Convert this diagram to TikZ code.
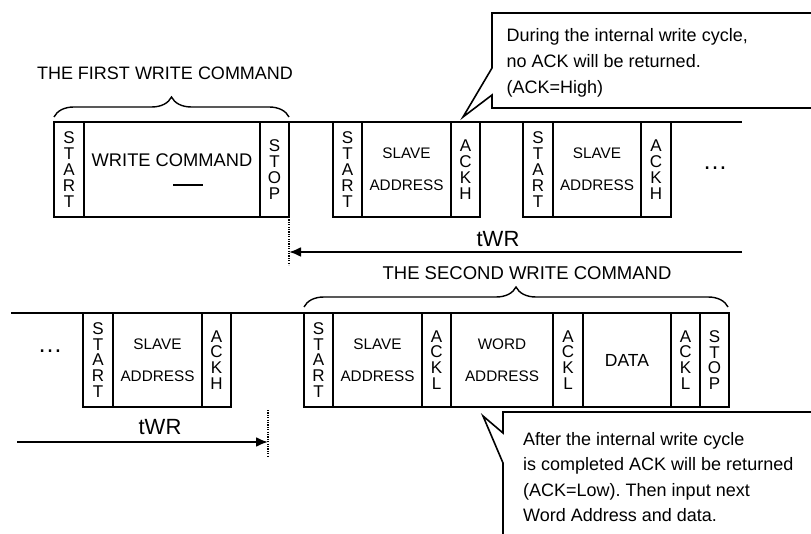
\documentclass[tikz,border=0pt]{standalone}
\usepackage{fontspec}
\setmainfont{Liberation Sans}
\usetikzlibrary{arrows.meta,decorations.pathreplacing}
\frenchspacing
\begin{document}
\begin{tikzpicture}[x=1pt,y=-1pt,
  cell/.style={draw,line width=1.6pt,inner sep=0pt,outer sep=0pt,anchor=north west},
  topc/.style={cell,minimum height=95pt},
  botc/.style={cell,minimum height=94pt},
  vert/.style={align=center,font=\fontsize{17}{15.8}\selectfont},
  lab2/.style={align=center,font=\fontsize{15.3}{32}\selectfont},
  bus/.style={line width=1.6pt},
  dots/.style={line width=1.6pt,dash pattern=on 1.2pt off 1.2pt},
  twr/.style={line width=2.2pt,-{Latex[length=12pt,width=10pt]}},
  brc/.style={line width=1.4pt,decorate,decoration={brace,amplitude=20pt}},
  big/.style={font=\fontsize{18}{22}\selectfont,inner sep=0pt},
  callout/.style={line width=1.6pt},
  ctext/.style={align=left,anchor=base west,inner sep=0pt,font=\fontsize{18}{26}\selectfont},
  ell/.style={font=\fontsize{25}{25}\selectfont,inner sep=0pt}
]
\useasboundingbox (0,0) rectangle (811,534);
\clip (0,0) rectangle (811,534);
\fill[white] (0,0) rectangle (811,534);

% ---------- top row ----------
\node[topc,minimum width=30pt,vert] (t1s) at (54,122) {S\\T\\A\\R\\T};
\node[topc,minimum width=176pt] (t1w) at (84,122) {};
\node[topc,minimum width=29pt,vert] (t1p) at (260,122) {S\\T\\O\\P};
\node[big,font=\fontsize{18.3}{22}\selectfont] (wc) at (172,160) {WRITE COMMAND};
\coordinate (dashL) at (173,185);
\coordinate (dashR) at (203,185);
\draw[line width=1.6pt] (dashL) -- (dashR);

\node[topc,minimum width=29pt,vert] (t2s) at (333,122) {S\\T\\A\\R\\T};
\node[topc,minimum width=89pt,lab2] (t2a) at (362,122) {SLAVE\\ADDRESS};
\node[topc,minimum width=29pt,vert] (t2k) at (451,122) {A\\C\\K\\H};

\node[topc,minimum width=30pt,vert] (t3s) at (523,122) {S\\T\\A\\R\\T};
\node[topc,minimum width=88pt,lab2] (t3a) at (553,122) {SLAVE\\ADDRESS};
\node[topc,minimum width=30pt,vert] (t3k) at (641,122) {A\\C\\K\\H};
\node[ell] (tdots) at (715,168) {…};

\coordinate (busTR) at (742,122);
\draw[bus] (t1p.north east) -- (t2s.north west);
\draw[bus] (t2k.north east) -- (t3s.north west);
\draw[bus] (t3k.north east) -- (busTR);

% first brace
\draw[brc] (54,117) -- (289,117);
\node[big] (first) at (165,73) {THE FIRST WRITE COMMAND};

% top tWR
\coordinate (d1b) at (289,265);
\draw[dots] (t1p.south east) -- (d1b);
\coordinate (a1r) at (742,252);
\coordinate (a1l) at (289,252);
\draw[twr] (a1r) -- (a1l);
\node[font=\fontsize{22}{24}\selectfont,inner sep=0pt] (twr1) at (498,239) {tWR};
\node[big,font=\fontsize{18.5}{22}\selectfont] (second) at (527,273) {THE SECOND WRITE COMMAND};

% top callout
\draw[callout] (830,108) -- (492,108) -- (492,95) -- (463,117) -- (492,68) -- (492,13) -- (830,13);
\node[ctext] (c1) at (506.5,93.7) {During the internal write cycle,\\no ACK will be returned.\\(ACK=High)};

% ---------- bottom row ----------
\node[botc,minimum width=30pt,vert] (b1s) at (83,313) {S\\T\\A\\R\\T};
\node[botc,minimum width=89pt,lab2] (b1a) at (113,313) {SLAVE\\ADDRESS};
\node[botc,minimum width=29pt,vert] (b1k) at (202,313) {A\\C\\K\\H};
\node[ell] (bdots) at (50,351) {…};

\node[botc,minimum width=29pt,vert] (b2s) at (304,313) {S\\T\\A\\R\\T};
\node[botc,minimum width=89pt,lab2] (b2a) at (333,313) {SLAVE\\ADDRESS};
\node[botc,minimum width=29pt,vert] (b2k) at (422,313) {A\\C\\K\\L};
\node[botc,minimum width=102pt,lab2] (b2w) at (451,313) {WORD\\ADDRESS};
\node[botc,minimum width=30pt,vert] (b2k2) at (553,313) {A\\C\\K\\L};
\node[botc,minimum width=88pt,font=\fontsize{17.5}{20}\selectfont] (b2d) at (583,313) {DATA};
\node[botc,minimum width=29pt,vert] (b2k3) at (671,313) {A\\C\\K\\L};
\node[botc,minimum width=29pt,vert] (b2p) at (700,313) {S\\T\\O\\P};

\coordinate (busBL) at (11,313);
\draw[bus] (busBL) -- (b1s.north west);
\draw[bus] (b1k.north east) -- (b2s.north west);

% second brace
\draw[brc] (304,307) -- (728,307);

% bottom tWR
\coordinate (d2t) at (268,410);
\coordinate (d2b) at (268,457);
\draw[dots] (d2t) -- (d2b);
\coordinate (a2l) at (17,442);
\coordinate (a2r) at (268,442);
\draw[twr] (a2l) -- (a2r);
\node[font=\fontsize{22}{24}\selectfont,inner sep=0pt] (twr2) at (160,427) {tWR};

% bottom callout
\draw[callout] (830,412) -- (503,412) -- (503,433) -- (483,416) -- (503,463) -- (503,560);
\node[ctext,font=\fontsize{18}{25.5}\selectfont] (c2) at (523,521.5) {After the internal write cycle\\is completed ACK will be returned\\(ACK=Low). Then input next\\Word Address and data.};
\end{tikzpicture}
\end{document}
